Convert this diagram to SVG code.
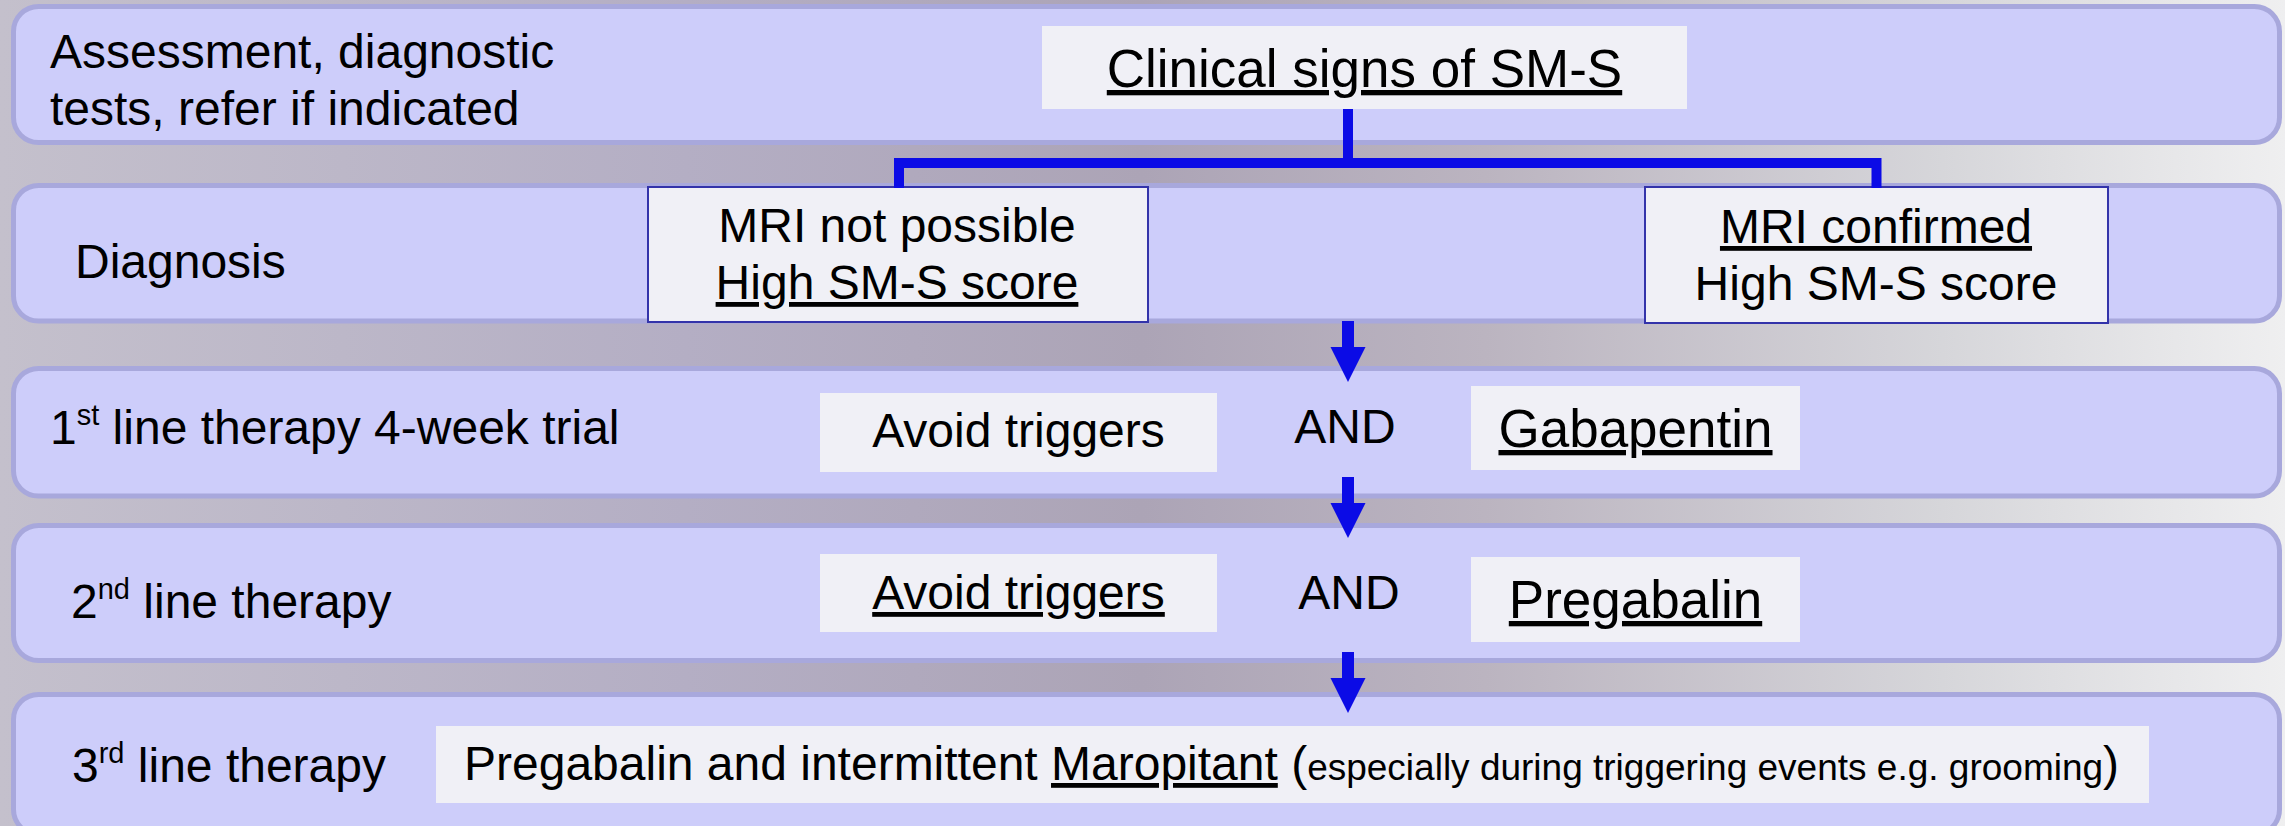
<svg xmlns="http://www.w3.org/2000/svg" xmlns:xlink="http://www.w3.org/1999/xlink" width="2285" height="826" viewBox="0 0 2285 826">
<style>
  text { font-family: "Liberation Sans", Arial, sans-serif; fill: #000; }
  .t48 { font-size: 48px; }
  .t53 { font-size: 53px; }
  .small { font-size: 37px; }
  .mid { text-anchor: middle; }
  .u { text-decoration: underline; }
  .band { fill: #cdcdfa; stroke: #a8a8dc; stroke-width: 5; }
  .box { fill: #f0f0f6; }
  .bbox { fill: #f0f0f6; stroke: #3333aa; stroke-width: 2; }
  .conn { fill: none; stroke: #0b0be6; stroke-width: 10; }
  .sup { font-size: 29px; }
</style>
<defs>
  <linearGradient id="bg" x1="0" y1="0" x2="1" y2="0">
    <stop offset="0" stop-color="#c4c0cc"/>
    <stop offset="0.3" stop-color="#b4aec4"/>
    <stop offset="0.5" stop-color="#aca4b6"/>
    <stop offset="0.65" stop-color="#bbb4c0"/>
    <stop offset="0.85" stop-color="#d6d6da"/>
    <stop offset="1" stop-color="#efeff0"/>
  </linearGradient>
  <path id="arrow" d="M-6,0 H6 V26 H17.5 L0,61 L-17.5,26 H-6 Z" fill="#0b0be6"/>
</defs>

<rect x="0" y="0" width="2285" height="826" fill="url(#bg)"/>

<g id="row1">
  <rect class="band" x="13.5" y="6.5" width="2266" height="136" rx="25"/>
  <text class="t48" x="50" y="68">Assessment, diagnostic</text>
  <text class="t48" x="50" y="125">tests, refer if indicated</text>
</g>
<g id="clinical">
  <rect class="box" x="1042" y="26" width="645" height="83"/>
  <text class="t53 mid u" x="1364.5" y="87">Clinical signs of SM-S</text>
</g>

<g id="row2">
  <rect class="band" x="13.5" y="185.5" width="2266" height="135.5" rx="25"/>
  <text class="t48" x="75" y="278">Diagnosis</text>
</g>
<g id="mri-not-possible">
  <rect class="bbox" x="648" y="187" width="500" height="135"/>
  <text class="t48 mid" x="897" y="242">MRI not possible</text>
  <text class="t48 mid u" x="897" y="299">High SM-S score</text>
</g>
<g id="mri-confirmed">
  <rect class="bbox" x="1645" y="187" width="463" height="136"/>
  <text class="t48 mid u" x="1876" y="243">MRI confirmed</text>
  <text class="t48 mid" x="1876" y="300">High SM-S score</text>
</g>

<g id="row3">
  <rect class="band" x="13.5" y="368.5" width="2266" height="127.5" rx="25"/>
  <text class="t48" x="50" y="444">1<tspan class="sup" dy="-19">st</tspan><tspan dy="19"> line therapy 4-week trial</tspan></text>
</g>
<g id="avoid1">
  <rect class="box" x="820" y="393" width="397" height="79"/>
  <text class="t48 mid" x="1018.5" y="447">Avoid triggers</text>
</g>
<g id="and1">
  <text class="t48 mid" x="1345" y="443">AND</text>
</g>
<g id="gabapentin">
  <rect class="box" x="1471" y="386" width="329" height="84"/>
  <text class="t53 mid u" x="1635.5" y="447">Gabapentin</text>
</g>

<g id="row4">
  <rect class="band" x="13.5" y="525.5" width="2266" height="135" rx="25"/>
  <text class="t48" x="71" y="618">2<tspan class="sup" dy="-19">nd</tspan><tspan dy="19"> line therapy</tspan></text>
</g>
<g id="avoid2">
  <rect class="box" x="820" y="554" width="397" height="78"/>
  <text class="t48 mid u" x="1018.5" y="609">Avoid triggers</text>
</g>
<g id="and2">
  <text class="t48 mid" x="1349" y="609">AND</text>
</g>
<g id="pregabalin">
  <rect class="box" x="1471" y="557" width="329" height="85"/>
  <text class="t53 mid u" x="1635.5" y="618">Pregabalin</text>
</g>

<g id="row5">
  <rect class="band" x="13.5" y="694.5" width="2266" height="140" rx="25"/>
  <text class="t48" x="72" y="782">3<tspan class="sup" dy="-19">rd</tspan><tspan dy="19"> line therapy</tspan></text>
</g>
<g id="third-line">
  <rect class="box" x="436" y="726" width="1713" height="77"/>
  <text class="t48" x="464" y="780">Pregabalin and intermittent <tspan class="u">Maropitant</tspan> (<tspan class="small">especially during triggering events e.g. grooming</tspan>)</text>
</g>

<g id="connectors">
  <path class="conn" d="M1348,109 V163 M899,188 V163 H1876.5 V188"/>
  <use xlink:href="#arrow" x="1348" y="321"/>
  <use xlink:href="#arrow" x="1348" y="477"/>
  <use xlink:href="#arrow" x="1348" y="652"/>
</g>
</svg>
